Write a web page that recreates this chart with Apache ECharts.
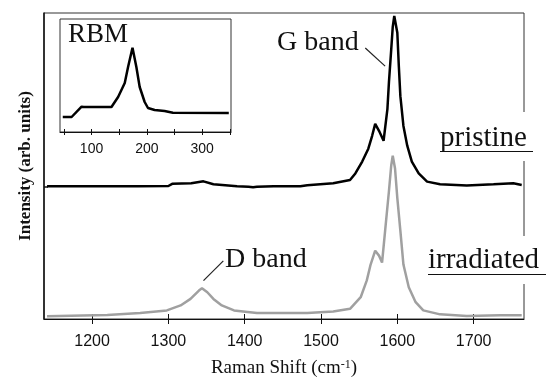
<!DOCTYPE html>
<html><head><meta charset="utf-8">
<script src="https://cdn.jsdelivr.net/npm/echarts@6/dist/echarts.min.js"></script>
<style>html,body{margin:0;padding:0;background:#fff}#c{width:550px;height:383px}</style>
</head><body><div id="c"></div>
<script>
// Main spectrum (Raman shift in cm^-1, intensity in arbitrary units)
const pristineShift = [1141,1200,1260,1300,1305,1330,1346,1359,1390,1405,1411,1416,1438,1473,1482,1516,1538,1545,1554,1562,1567,1571,1576,1582,1587,1589,1592,1594,1596,1600,1602,1604,1608,1613,1619,1628,1639,1656,1691,1726,1752,1763];
const pristineIntensity = [134,134,134,134.3,136.5,137,139,136,134,133.5,133,133.5,134,134,135,137,140.3,147,159,172,185,197,190,180,212,239,272,295,306,289,255,225,195,175,159,147,138.7,136,134.7,136,137,135.3];
const irradiatedShift = [1141,1220,1263,1298,1316,1329,1340,1344,1351,1359,1370,1386,1416,1482,1516,1538,1552,1560,1565,1571,1576,1580,1584,1589,1592,1594,1597,1600,1604,1608,1615,1624,1634,1656,1691,1735,1763];
const irradiatedIntensity = [2.7,4,6,8.7,13.7,20.3,28.7,31,27,20.3,13.7,8.7,6,6,7.5,10.3,22,39,55,69,64,57,89,129,155,165,152,122,89,55,32,17,8.7,4.7,3,3.7,3.7];
// Inset (RBM region)
const rbmShift = [48,64,82,86,136,148,160,166,174,181,187,196,202,214,232,247,348];
const rbmIntensity = [15,15,25.3,25,25,35,49,65,84.3,65,45,30,24,22,21,19.3,19];
// Ticks
const mainTicks = [1200,1300,1400,1500,1600,1700];
const insetTicks = [50,100,150,200,250,300,350];
const insetLabels = [100,200,300];
const pristineBaselineTick = [134];

const zip = (a,b)=>a.map((v,i)=>[v,b[i]]);
const serif = '"Liberation Serif","Times New Roman",serif';
const sans = '"Liberation Sans",Arial,sans-serif';
const ink = '#111';
const plain = v => String(v);

const chart = echarts.init(document.getElementById('c'));
const hidden = {show:false};
const option = {
  animation:false,
  grid:[
    {left:44,top:13,width:480,height:309,show:true,borderColor:'#333',borderWidth:1},
    {left:60,top:19,width:171,height:113,show:true,borderColor:'#333',borderWidth:1}
  ],
  xAxis:[
    {gridIndex:0,type:'value',min:1137,max:1766,position:'bottom',
     axisLine:{onZero:false,lineStyle:{color:ink,width:1}},
     axisTick:{customValues:mainTicks,length:5,lineStyle:{color:ink,width:1}},
     axisLabel:{customValues:mainTicks,formatter:plain,fontFamily:sans,fontSize:16,color:ink,margin:15},
     splitLine:hidden,
     name:'{a|Raman Shift (cm}{s|-1}{a|)}',nameLocation:'middle',nameGap:40,
     nameTextStyle:{rich:{a:{fontFamily:serif,fontSize:19,color:ink},s:{fontFamily:serif,fontSize:12,color:ink,verticalAlign:'top'}}}},
    {gridIndex:0,type:'value',min:1137,max:1766,position:'bottom',
     axisLine:{show:false,onZero:false},
     axisTick:{inside:true,customValues:mainTicks,length:5,lineStyle:{color:ink,width:1}},
     axisLabel:hidden,splitLine:hidden},
    {gridIndex:1,type:'value',min:43,max:352,position:'bottom',
     axisLine:{onZero:false,lineStyle:{color:ink,width:1}},
     axisTick:{customValues:insetTicks,length:3,lineStyle:{color:ink,width:1}},
     axisLabel:{customValues:insetLabels,formatter:plain,fontFamily:sans,fontSize:14,color:ink,margin:10},
     splitLine:hidden},
    {gridIndex:1,type:'value',min:43,max:352,position:'bottom',
     axisLine:{show:false,onZero:false},
     axisTick:{inside:true,customValues:insetTicks,length:3,lineStyle:{color:ink,width:1}},
     axisLabel:hidden,splitLine:hidden}
  ],
  yAxis:[
    {gridIndex:0,type:'value',min:0,max:309,
     axisLine:{show:true,onZero:false,lineStyle:{color:ink,width:1.5}},
     axisTick:{show:true,inside:true,length:4,customValues:pristineBaselineTick,lineStyle:{color:ink,width:1.5}},
     axisLabel:hidden,splitLine:hidden,
     name:'Intensity (arb. units)',nameLocation:'middle',nameGap:10,
     nameTextStyle:{fontFamily:serif,fontWeight:'bold',fontSize:17,color:ink}},
    {gridIndex:1,type:'value',min:0,max:113,axisLine:{show:false},axisTick:hidden,axisLabel:hidden,splitLine:hidden}
  ],
  series:[
    {type:'line',xAxisIndex:0,yAxisIndex:0,data:zip(irradiatedShift,irradiatedIntensity),showSymbol:false,
     lineStyle:{color:'#a0a0a0',width:2.5},z:3,
     markLine:{silent:true,symbol:'none',label:hidden,lineStyle:{color:'#222',width:1.2,type:'solid'},
       data:[[{coord:[1346,38.7]},{coord:[1372,58.7]}]]}},
    {type:'line',xAxisIndex:0,yAxisIndex:0,data:zip(pristineShift,pristineIntensity),showSymbol:false,
     lineStyle:{color:'#000',width:2.5},z:4,
     markLine:{silent:true,symbol:'none',label:hidden,lineStyle:{color:'#222',width:1.2,type:'solid'},
       data:[[{coord:[1558,273.7]},{coord:[1584,255.3]}]]}},
    {type:'line',xAxisIndex:2,yAxisIndex:1,data:zip(rbmShift,rbmIntensity),showSymbol:false,
     lineStyle:{color:'#000',width:2.5},z:4}
  ],
  graphic:[
    {type:'rect',shape:{x:519,y:112,width:10,height:49},style:{fill:'#fff'},z:100},
    {type:'rect',shape:{x:519,y:236,width:10,height:48},style:{fill:'#fff'},z:100},
    {type:'text',x:440,y:138.5,style:{text:'pristine',font:'29px '+serif,fill:ink,textVerticalAlign:'middle'},z:101},
    {type:'line',shape:{x1:440,y1:151.5,x2:533,y2:151.5},style:{stroke:ink,lineWidth:1.2},z:101},
    {type:'text',x:428,y:260,style:{text:'irradiated',font:'29px '+serif,fill:ink,textVerticalAlign:'middle'},z:101},
    {type:'line',shape:{x1:428,y1:274.5,x2:546,y2:274.5},style:{stroke:ink,lineWidth:1.2},z:101},
    {type:'text',x:277,y:42.5,style:{text:'G band',font:'28px '+serif,fill:ink,textVerticalAlign:'middle'},z:101},
    {type:'text',x:225,y:259.5,style:{text:'D band',font:'28px '+serif,fill:ink,textVerticalAlign:'middle'},z:101},
    {type:'text',x:68,y:35,style:{text:'RBM',font:'27px '+serif,fill:ink,textVerticalAlign:'middle'},z:101}
  ]
};
chart.setOption(option);
</script>
</body></html>
